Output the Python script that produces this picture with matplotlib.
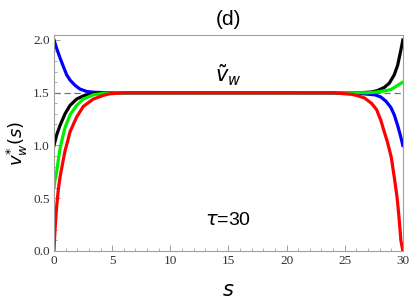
import matplotlib
matplotlib.use("Agg")
import matplotlib.pyplot as plt
from matplotlib.ticker import MultipleLocator

# values (s, v_w*(s))
s_blue = [0, 0.23, 0.52, 0.8, 1.09, 1.38, 1.81, 2.23, 2.81, 3.38, 4.5, 10, 20, 25.5,
          26.6, 27.6, 28.1, 28.54, 28.97, 29.26, 29.55, 29.8, 30]
v_blue = [2.0, 1.92, 1.83, 1.75, 1.67, 1.62, 1.57, 1.535, 1.512, 1.505, 1.5, 1.5, 1.5, 1.498,
          1.49, 1.48, 1.46, 1.42, 1.36, 1.29, 1.19, 1.09, 1.0]

s_black = [0, 0.23, 0.52, 0.95, 1.38, 1.95, 2.52, 3.38, 4.24, 5.5, 10, 20, 26.4,
           27.3, 27.8, 28.4, 28.83, 29.26, 29.55, 29.83, 30]
v_black = [1.0, 1.10, 1.19, 1.30, 1.38, 1.44, 1.47, 1.49, 1.495, 1.5, 1.5, 1.5, 1.5,
           1.507, 1.52, 1.55, 1.59, 1.67, 1.76, 1.905, 2.0]

s_green = [0, 0.086, 0.23, 0.37, 0.52, 0.66, 0.95, 1.38, 1.95, 2.52, 3.38, 4.24, 5.5, 10, 20,
           27.0, 27.6, 28.4, 28.97, 29.55, 30]
v_green = [0.6, 0.67, 0.75, 0.86, 0.97, 1.04, 1.17, 1.29, 1.38, 1.44, 1.48, 1.495, 1.5, 1.5, 1.5,
           1.5, 1.505, 1.517, 1.53, 1.57, 1.6]

s_red = [0, 0.06, 0.14, 0.23, 0.37, 0.52, 0.74, 0.95, 1.15, 1.38, 1.95, 2.52, 3.38, 4.24, 4.8,
         6, 10, 20, 24, 25.0, 25.6, 26.16, 26.7, 27.3, 27.74, 28.1, 28.4, 28.68, 29.0,
         29.26, 29.5, 29.66, 29.83, 30]
v_red = [0.0, 0.14, 0.29, 0.42, 0.58, 0.70, 0.83, 0.95, 1.03, 1.13, 1.27, 1.37, 1.44, 1.475, 1.49,
         1.5, 1.5, 1.5, 1.5, 1.49, 1.485, 1.47, 1.45, 1.40, 1.34, 1.24, 1.13, 1.03, 0.89,
         0.70, 0.51, 0.33, 0.10, 0.0]

v_tilde = 1.5

plt.rcParams['mathtext.fontset'] = 'dejavusans'
fig = plt.figure(figsize=(4.09, 3.02), dpi=100)
ax = fig.add_axes([0.132, 0.169, 0.853, 0.715])

ax.axhline(v_tilde, color='#6a6aa8', lw=0.9, ls=(0, (5, 3)))
ax.plot(s_blue, v_blue, color='#0000ff', lw=2.3, solid_joinstyle='round')
ax.plot(s_black, v_black, color='black', lw=2.3, solid_joinstyle='round')
ax.plot(s_green, v_green, color='#00ee00', lw=2.3, solid_joinstyle='round')
ax.plot(s_red, v_red, color='#ff0000', lw=2.3, solid_joinstyle='round')

ax.set_xlim(0, 30)
ax.set_ylim(0, 2.047)
ax.xaxis.set_major_locator(MultipleLocator(5))
ax.xaxis.set_minor_locator(MultipleLocator(1))
ax.yaxis.set_major_locator(MultipleLocator(0.5))
ax.yaxis.set_minor_locator(MultipleLocator(0.1))
ax.yaxis.set_major_formatter(matplotlib.ticker.FormatStrFormatter('%.1f'))

for sp in ax.spines.values():
    sp.set_color('#a0a0a0')
    sp.set_linewidth(0.8)
ax.tick_params(which='both', direction='in', color='#a0a0a0', top=False, right=False,
               labelsize=9.5, labelcolor='#333333', pad=3)
ax.tick_params(which='major', length=4, width=0.7)
ax.tick_params(which='minor', length=2.2, width=0.6)
for lab in ax.get_xticklabels() + ax.get_yticklabels():
    lab.set_family('Liberation Serif')

ax.set_title('(d)', fontsize=15, family='Liberation Sans', pad=7)
ax.set_xlabel(r'$s$', fontsize=15, labelpad=9)
ax.set_ylabel(r'$v_w^{*}(s)$', fontsize=13, labelpad=2)

ax.text(15, 1.67, r'$\tilde{v}_w$', fontsize=15, ha='center', va='center')
ax.text(15, 0.29, r'$\tau$=30', fontsize=14, ha='center', va='center', family='Liberation Sans')

fig.savefig('out.png', dpi=100)
